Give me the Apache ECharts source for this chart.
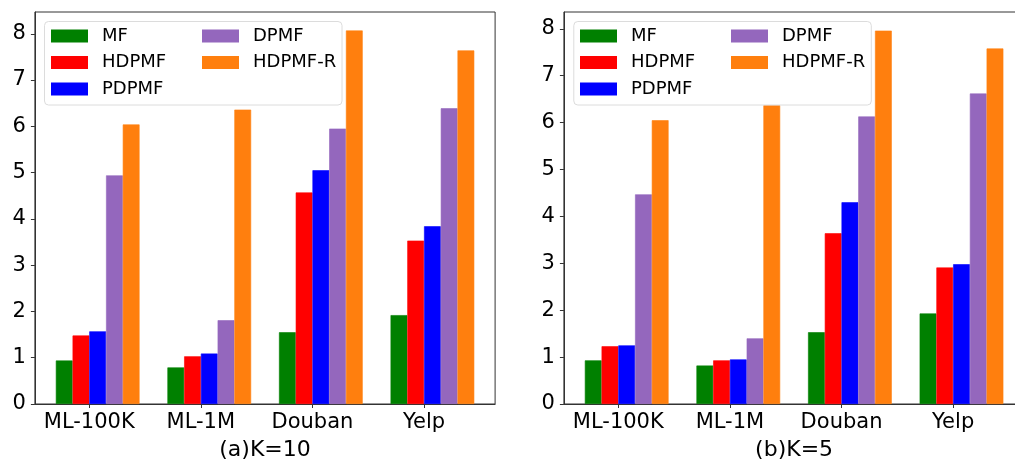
<!DOCTYPE html>
<html><head><meta charset="utf-8">
<script src="https://cdn.jsdelivr.net/npm/echarts@6/dist/echarts.min.js"></script>
<style>html,body{margin:0;padding:0;background:#fff}#c{width:1015px;height:462px}</style>
</head><body><div id="c"></div>
<script>
const categories = ['ML-100K', 'ML-1M', 'Douban', 'Yelp'];
const seriesNames = ['MF', 'HDPMF', 'PDPMF', 'DPMF', 'HDPMF-R'];
const seriesColors = ['#008000', '#ff0000', '#0000ff', '#9467bd', '#ff7f0e'];
const yTicks = [0, 1, 2, 3, 4, 5, 6, 7, 8];
const xTickPos = [0, 1, 2, 3];

// (a) K=10
const k10_MF      = [0.94, 0.79, 1.55, 1.92];
const k10_HDPMF   = [1.48, 1.03, 4.57, 3.53];
const k10_PDPMF   = [1.57, 1.09, 5.05, 3.84];
const k10_DPMF    = [4.94, 1.81, 5.95, 6.39];
const k10_HDPMF_R = [6.04, 6.36, 8.07, 7.64];
// (b) K=5
const k5_MF       = [0.93, 0.82, 1.53, 1.93];
const k5_HDPMF    = [1.23, 0.93, 3.64, 2.91];
const k5_PDPMF    = [1.25, 0.95, 4.30, 2.98];
const k5_DPMF     = [4.47, 1.40, 6.13, 6.62];
const k5_HDPMF_R  = [6.05, 6.37, 7.96, 7.58];

const panelTitles = ['(a)K=10', '(b)K=5'];
const panelData = [
  [k10_MF, k10_HDPMF, k10_PDPMF, k10_DPMF, k10_HDPMF_R],
  [k5_MF, k5_HDPMF, k5_PDPMF, k5_DPMF, k5_HDPMF_R]
];

const FONT = 'DejaVu Sans';
const layout = [
  { frameLeft: 34.9, frameWidth: 460.2, barLeft: 41.9, barWidth: 446.3, ymax: 8.47, legendX: 51, boxX: 44.5 },
  { frameLeft: 563.9, frameWidth: 460.4, barLeft: 570.9, barWidth: 446.4, ymax: 8.358, legendX: 580, boxX: 573.8 }
];
const TOP = 12, HEIGHT = 392;

const grid = [], xAxis = [], yAxis = [], series = [], legend = [], graphic = [];
layout.forEach((L, p) => {
  const gFrame = grid.length;
  grid.push({ left: L.frameLeft, top: TOP, width: L.frameWidth, height: HEIGHT, show: true,
    borderColor: '#333', borderWidth: 1, backgroundColor: 'transparent',
    containLabel: false, outerBoundsMode: 'none' });
  const gBar = grid.length;
  grid.push({ left: L.barLeft, top: TOP, width: L.barWidth, height: HEIGHT, show: false,
    containLabel: false, outerBoundsMode: 'none' });

  xAxis.push({
    gridIndex: gFrame, type: 'value', min: -0.4875, max: 3.6375,
    axisLine: { show: true, onZero: false, lineStyle: { color: '#333', width: 1 } },
    axisTick: { show: true, customValues: xTickPos, length: 4, lineStyle: { color: '#333' } },
    axisLabel: { customValues: xTickPos, formatter: v => categories[Math.round(v)] || '',
      fontSize: 21, color: '#000', fontFamily: FONT, margin: 8 },
    splitLine: { show: false },
    name: panelTitles[p], nameLocation: 'middle', nameGap: 35,
    nameTextStyle: { fontSize: 22, color: '#000', fontFamily: FONT }
  });
  xAxis.push({ gridIndex: gBar, type: 'category', data: categories, show: false });

  yAxis.push({
    gridIndex: gFrame, type: 'value', min: 0, max: L.ymax,
    axisLine: { show: true, onZero: false, lineStyle: { color: '#333', width: 1 } },
    axisTick: { show: true, customValues: yTicks, length: 4, lineStyle: { color: '#333' } },
    axisLabel: { customValues: yTicks, fontSize: 21, color: '#000', fontFamily: FONT, margin: 9 },
    splitLine: { show: false }
  });
  yAxis.push({ gridIndex: gBar, type: 'value', min: 0, max: L.ymax, show: false });

  panelData[p].forEach((vals, i) => {
    series.push({
      type: 'bar', name: seriesNames[i], xAxisIndex: gBar, yAxisIndex: gBar,
      data: vals, barGap: '0%', barCategoryGap: '25%',
      itemStyle: { color: seriesColors[i], borderColor: seriesColors[i], borderWidth: 0.6 },
      emphasis: { disabled: true }
    });
  });

  const legCommon = {
    orient: 'vertical', top: 27, padding: 0, itemGap: 8.5, itemWidth: 37, itemHeight: 13,
    icon: 'rect', selectedMode: false, z: 10,
    itemStyle: { borderWidth: 0 },
    textStyle: { fontSize: 18, color: '#000', fontFamily: FONT, padding: [0, 0, 0, 9] }
  };
  legend.push(Object.assign({}, legCommon, { left: L.legendX, data: seriesNames.slice(0, 3) }));
  legend.push(Object.assign({}, legCommon, { left: L.legendX + 151, data: seriesNames.slice(3) }));

  graphic.push({ type: 'rect', z: 5, shape: { x: L.boxX, y: 21.5, width: 297.5, height: 83.5, r: 4 },
    style: { fill: '#fff', stroke: '#dcdcdc', lineWidth: 1 } });
});

const chart = echarts.init(document.getElementById('c'), null, { renderer: 'canvas' });
chart.setOption({
  animation: false,
  backgroundColor: '#fff',
  textStyle: { fontFamily: FONT },
  grid, xAxis, yAxis, series, legend, graphic
});
</script>
</body></html>
